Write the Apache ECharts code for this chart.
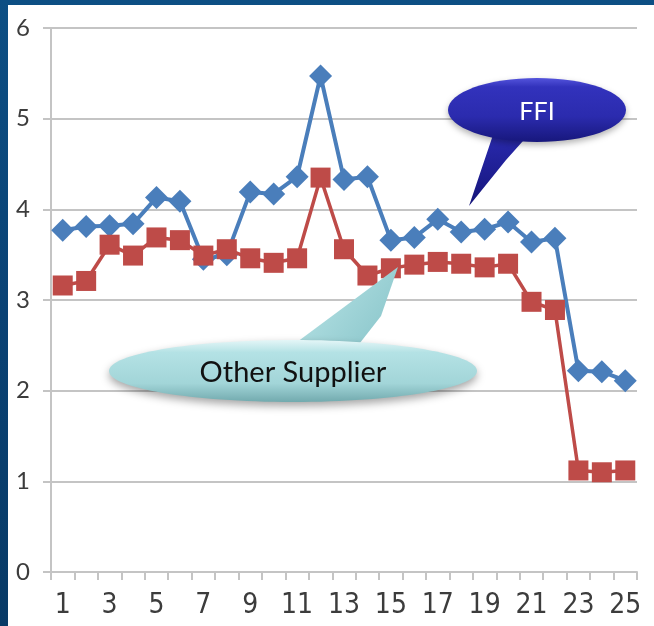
<!DOCTYPE html>
<html>
<head>
<meta charset="utf-8">
<script src="https://cdn.jsdelivr.net/npm/echarts@6/dist/echarts.min.js"></script>
<style>
  html, body { margin: 0; padding: 0; width: 654px; height: 626px; overflow: hidden; }
  body { background: linear-gradient(180deg, #0d4f84 0%, #0a4274 50%, #083a66 100%); position: relative; }
  #panel { position: absolute; left: 8px; top: 5px; width: 646px; height: 621px; background: #ffffff; }
  #chart { position: absolute; left: 0; top: 0; width: 654px; height: 626px; }
</style>
</head>
<body>
<div id="panel"></div>
<div id="chart"></div>
<script>
// Periods 1..25 along the x axis
const periods = ['1','2','3','4','5','6','7','8','9','10','11','12','13','14','15','16','17','18','19','20','21','22','23','24','25'];

// Scores per period
const ffiValues = [3.77, 3.81, 3.82, 3.84, 4.13, 4.09, 3.45, 3.50, 4.19, 4.17, 4.36, 5.47, 4.33, 4.36, 3.66, 3.69, 3.89, 3.75, 3.78, 3.86, 3.64, 3.68, 2.22, 2.21, 2.11];
const otherSupplierValues = [3.16, 3.21, 3.61, 3.49, 3.69, 3.66, 3.49, 3.56, 3.46, 3.41, 3.46, 4.35, 3.56, 3.27, 3.35, 3.39, 3.42, 3.40, 3.36, 3.40, 2.98, 2.89, 1.12, 1.10, 1.12];

// Callout captions
const ffiCaption = 'FFI';
const otherCaption = 'Other Supplier';

const chart = echarts.init(document.getElementById('chart'), null, { renderer: 'canvas' });

const gridGray = '#c4c4c4';
const labelGray = '#3c3c3c';

chart.setOption({
  animation: false,
  backgroundColor: 'transparent',
  grid: { left: 51, right: 17, top: 28, bottom: 54 },
  xAxis: {
    type: 'category',
    data: periods,
    boundaryGap: true,
    axisLine: { lineStyle: { color: gridGray, width: 2 } },
    axisTick: { show: true, interval: 0, length: 8, lineStyle: { color: gridGray, width: 2 } },
    axisLabel: {
      interval: 1,
      margin: 20,
      color: labelGray,
      fontFamily: '"Liberation Sans Narrow", "DejaVu Sans Condensed", sans-serif',
      fontSize: 28
    }
  },
  yAxis: {
    type: 'value',
    min: 0,
    max: 6,
    interval: 1,
    axisLine: { show: true, lineStyle: { color: gridGray, width: 2 } },
    axisTick: { show: true, length: 8, lineStyle: { color: gridGray, width: 2 } },
    splitLine: { show: true, lineStyle: { color: gridGray, width: 2 } },
    axisLabel: {
      margin: 21,
      color: labelGray,
      fontFamily: 'Lato, sans-serif',
      fontSize: 24
    }
  },
  series: [
    {
      name: 'FFI',
      type: 'line',
      data: ffiValues,
      symbol: 'diamond',
      symbolSize: 23,
      showAllSymbol: true,
      lineStyle: { color: '#4a7ebb', width: 4 },
      itemStyle: { color: '#4a7ebb' },
      z: 2
    },
    {
      name: 'Other Supplier',
      type: 'line',
      data: otherSupplierValues,
      symbol: 'rect',
      symbolSize: 20,
      showAllSymbol: true,
      lineStyle: { color: '#be4b48', width: 3.5 },
      itemStyle: { color: '#be4b48' },
      z: 3
    }
  ],
  graphic: [
    // Dark blue speech bubble pointing at the FFI line
    {
      type: 'polygon',
      z: 100,
      shape: { points: [[494, 132], [531, 132], [506, 160], [469, 206]] },
      style: {
        fill: new echarts.graphic.LinearGradient(0, 0, 0, 1, [
          { offset: 0, color: '#2a2ab0' },
          { offset: 1, color: '#15157a' }
        ])
      }
    },
    {
      type: 'ellipse',
      z: 101,
      shape: { cx: 537, cy: 110, rx: 89, ry: 32 },
      style: {
        fill: new echarts.graphic.LinearGradient(0, 0, 0, 1, [
          { offset: 0, color: '#5454dc' },
          { offset: 0.14, color: '#3232bc' },
          { offset: 0.6, color: '#2b2bae' },
          { offset: 1, color: '#17177c' }
        ]),
        shadowBlur: 6,
        shadowColor: 'rgba(0,0,0,0.3)',
        shadowOffsetY: 3
      }
    },
    {
      type: 'text',
      z: 102,
      x: 537,
      y: 112,
      style: {
        text: ffiCaption,
        align: 'center',
        verticalAlign: 'middle',
        fill: '#ffffff',
        font: '25px Lato, sans-serif'
      }
    },
    // Light teal speech bubble pointing at the Other Supplier line
    {
      type: 'polygon',
      z: 100,
      shape: { points: [[289, 348], [356, 348], [381, 316], [398, 267]] },
      style: {
        fill: new echarts.graphic.LinearGradient(0, 0, 1, 1, [
          { offset: 0, color: '#bfe8ea' },
          { offset: 1, color: '#86c3c8' }
        ])
      }
    },
    {
      type: 'ellipse',
      z: 101,
      shape: { cx: 293, cy: 371, rx: 184, ry: 31 },
      style: {
        fill: new echarts.graphic.LinearGradient(0, 0, 0, 1, [
          { offset: 0, color: '#e4f6f7' },
          { offset: 0.2, color: '#b4e2e5' },
          { offset: 0.7, color: '#a2d5d8' },
          { offset: 1, color: '#72aaae' }
        ]),
        shadowBlur: 8,
        shadowColor: 'rgba(0,0,0,0.35)',
        shadowOffsetY: 4
      }
    },
    {
      type: 'text',
      z: 102,
      x: 293,
      y: 373,
      style: {
        text: otherCaption,
        align: 'center',
        verticalAlign: 'middle',
        fill: '#111111',
        font: '29px Lato, sans-serif'
      }
    }
  ]
});
</script>
</body>
</html>
